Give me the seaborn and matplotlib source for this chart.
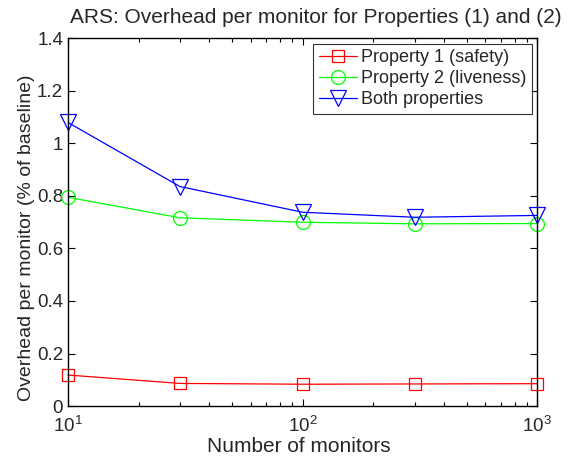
import matplotlib
matplotlib.use("Agg")
import matplotlib.pyplot as plt
import seaborn as sns
import pandas as pd
import numpy as np
from matplotlib.ticker import LogLocator, NullFormatter

# Number of monitors and the per-monitor overhead (% of baseline)
monitors = [10, 30, 100, 300, 1000]
prop1_safety = [0.118, 0.086, 0.083, 0.084, 0.085]
prop2_liveness = [0.795, 0.717, 0.700, 0.694, 0.695]
both_props = [1.080, 0.836, 0.738, 0.719, 0.726]

series_labels = ["Property 1 (safety)", "Property 2 (liveness)", "Both properties"]
y_ticks = [0, 0.2, 0.4, 0.6, 0.8, 1.0, 1.2, 1.4]
y_tick_labels = ["0", "0.2", "0.4", "0.6", "0.8", "1", "1.2", "1.4"]

sns.set_style("ticks")
plt.rcParams["font.family"] = ["Liberation Sans", "DejaVu Sans"]
plt.rcParams["mathtext.fontset"] = "custom"
plt.rcParams["mathtext.rm"] = "Liberation Sans"
plt.rcParams["mathtext.it"] = "Liberation Sans:italic"

fig = plt.figure(figsize=(5.71, 4.62), dpi=100)
ax = fig.add_axes([0.1191, 0.1212, 0.822, 0.7955])

frames = []
for lab, vals in zip(series_labels, [prop1_safety, prop2_liveness, both_props]):
    frames.append(pd.DataFrame({"monitors": monitors, "overhead": vals, "series": lab}))
df = pd.concat(frames, ignore_index=True)

styles = {
    "Property 1 (safety)": ("#ff0000", "s", 9),
    "Property 2 (liveness)": ("#00ff00", "o", 10),
    "Both properties": ("#0000ff", "v", 11),
}
for lab in series_labels:
    color, marker, ms = styles[lab]
    sub = df[df["series"] == lab]
    sns.lineplot(data=sub, x="monitors", y="overhead", ax=ax, color=color,
                 marker=marker, markersize=ms, mfc="none", mec=color, mew=0.9,
                 linewidth=0.9, label=lab, clip_on=False)

ax.set_xscale("log")
ax.set_xlim(10, 1000)
ax.set_ylim(0, 1.4)
ax.set_yticks(y_ticks)
ax.set_yticklabels(y_tick_labels)
ax.xaxis.set_minor_locator(LogLocator(base=10, subs=np.arange(2, 10)))
ax.xaxis.set_minor_formatter(NullFormatter())

ax.tick_params(which="both", direction="in", top=True, right=True,
               labelsize=13.5, width=0.8, color="black")
ax.tick_params(which="major", length=5)
ax.tick_params(which="minor", length=3)
ax.tick_params(axis="x", pad=7)
ax.tick_params(axis="y", pad=3.5)
for sp in ax.spines.values():
    sp.set_linewidth(1.0)
    sp.set_color("black")

ax.set_xlabel("Number of monitors", fontsize=15)
ax.xaxis.set_label_coords(0.492, -0.085)
ax.set_ylabel("Overhead per monitor (% of baseline)", fontsize=14)
ax.yaxis.set_label_coords(-0.07, 0.457)
ax.set_title("ARS: Overhead per monitor for Properties (1) and (2)", fontsize=15,
             x=0.528, pad=11)

leg = ax.legend(loc="upper right", fontsize=13, frameon=True, fancybox=False,
                borderaxespad=0.3, handlelength=2.1, borderpad=0.3,
                labelspacing=0.22, handletextpad=0.25)
leg.get_frame().set_edgecolor("black")
leg.get_frame().set_linewidth(0.8)

fig.savefig("out.png", dpi=100)
